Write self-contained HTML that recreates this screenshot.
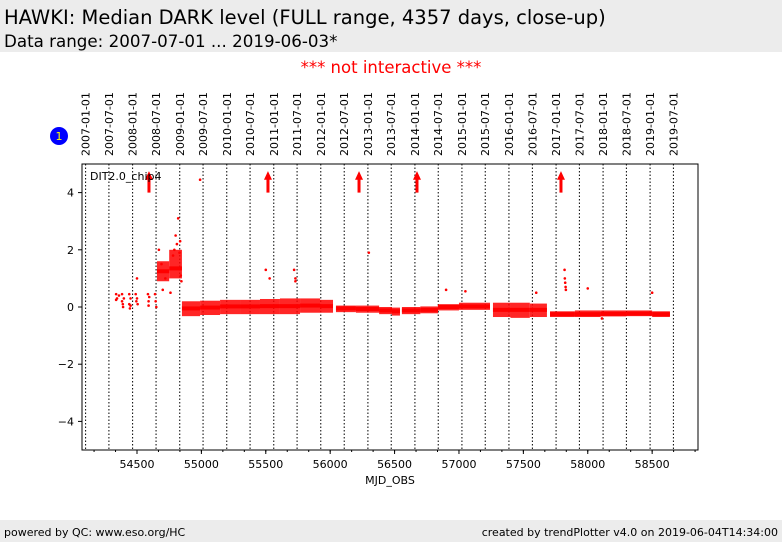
<!DOCTYPE html>
<html><head><meta charset="utf-8"><style>
body{margin:0;width:782px;height:542px;background:#fff;font-family:"DejaVu Sans","Liberation Sans",sans-serif;overflow:hidden;position:relative}
.hdr{position:absolute;left:0;top:0;width:782px;height:52px;background:#ececec}
.t1{position:absolute;left:4px;top:6px;font-size:19.5px;color:#000}
.t2{position:absolute;left:4px;top:31px;font-size:16.7px;color:#000}
.ni{position:absolute;left:0;width:782px;top:58px;text-align:center;color:red;font-size:16.5px}
.ftr{position:absolute;left:0;top:520px;width:782px;height:22px;background:#ececec;font-size:11px}
</style></head><body>
<div class="hdr">
<div class="t1">HAWKI: Median DARK level (FULL range, 4357 days, close-up)</div>
<div class="t2">Data range: 2007-07-01 ... 2019-06-03*</div></div>
<div class="ni">*** not interactive ***</div>
<svg id="chart" width="782" height="542" style="position:absolute;left:0;top:0"></svg>
<div class="ftr"><span style="position:absolute;left:4px;top:6px">powered by QC: www.eso.org/HC</span><span style="position:absolute;right:4px;top:6px">created by trendPlotter v4.0 on 2019-06-04T14:34:00</span></div>
<script>
const xDomain=[54073,58856];
const yDomain=[-5,5];
const xTicks=[54500,55000,55500,56000,56500,57000,57500,58000,58500];
const yTicks=[4,2,0,-2,-4];
const dateLabels=["2007-01-01","2007-07-01","2008-01-01","2008-07-01","2009-01-01","2009-07-01","2010-01-01","2010-07-01","2011-01-01","2011-07-01","2012-01-01","2012-07-01","2013-01-01","2013-07-01","2014-01-01","2014-07-01","2015-01-01","2015-07-01","2016-01-01","2016-07-01","2017-01-01","2017-07-01","2018-01-01","2018-07-01","2019-01-01","2019-07-01"];
const arrowMjd=[54593,55517,56224,56674,57792];
// band bins: start mjd, median, low, high (bin ends at next start)
const binMjd=[54655,54750,54849,54990,55145,55300,55455,55610,55766,55921,56022,56045,56200,56380,56480,56542,56557,56700,56837,57000,57241,57264,57400,57550,57683,57707,57900,58100,58300,58500,58638];
const binMed=[1.25,1.35,-0.05,-0.02,0.02,0.02,0.03,0.03,0.05,0.03,null,-0.05,-0.07,-0.12,-0.15,null,-0.12,-0.1,0.0,0.02,null,-0.1,-0.1,-0.1,null,-0.25,-0.25,-0.24,-0.23,-0.25,null];
const binLo=[0.9,1.0,-0.32,-0.28,-0.25,-0.25,-0.25,-0.25,-0.2,-0.2,null,-0.18,-0.2,-0.25,-0.3,null,-0.25,-0.22,-0.12,-0.1,null,-0.35,-0.38,-0.35,null,-0.35,-0.35,-0.33,-0.32,-0.35,null];
const binHi=[1.6,2.0,0.2,0.22,0.25,0.25,0.28,0.3,0.3,0.25,null,0.05,0.05,0.0,-0.02,null,0.0,0.02,0.1,0.15,null,0.15,0.15,0.12,null,-0.15,-0.12,-0.12,-0.12,-0.15,null];
// individual points
const ptMjd=[54338,54338,54345,54360,54384,54384,54390,54392,54398,54440,54440,54445,54450,54450,54490,54495,54500,54500,54505,54585,54590,54590,54595,54640,54645,54650,54670,54690,54700,54720,54760,54780,54790,54800,54810,54820,54830,54835,54840,54845,54990,55500,55530,55720,55730,55730,56300,56900,57050,57600,57820,57822,57825,57828,57830,58000,58110,58500];
const ptVal=[0.45,0.25,0.3,0.4,0.45,0.2,0.1,0.0,0.3,0.45,0.1,-0.05,0.3,0.05,0.45,0.2,1.0,0.3,0.1,0.45,0.2,0.05,0.35,0.45,0.2,0.0,2.0,1.5,0.6,1.0,0.5,1.8,2.0,2.5,2.2,3.1,1.9,2.3,1.1,0.9,4.45,1.3,1.0,1.3,1.0,0.9,1.9,0.6,0.55,0.5,1.3,1.0,0.85,0.7,0.6,0.65,-0.4,0.5];
const NS='http://www.w3.org/2000/svg';
const svg=document.getElementById('chart');
const L=82,R=698,T=164,B=450;
const X=v=>L+(v-xDomain[0])/(xDomain[1]-xDomain[0])*(R-L);
const Y=v=>B-(v-yDomain[0])/(yDomain[1]-yDomain[0])*(B-T);
function mk(tag,attrs,parent){const e=document.createElementNS(NS,tag);for(const k in attrs)e.setAttribute(k,attrs[k]);(parent||svg).appendChild(e);return e;}
const mjdOf=s=>Date.UTC(+s.slice(0,4),+s.slice(5,7)-1,+s.slice(8,10))/86400000+40587;
dateLabels.forEach(d=>{const x=X(mjdOf(d));
 const ln=mk('line',{x1:x,x2:x,y1:T,y2:B,stroke:'#000','stroke-width':1,'stroke-dasharray':'1.5,2'});
 
 
 const t=mk('text',{x:0,y:0,transform:`translate(${x+4},156) rotate(-90)`,'font-size':'11','font-family':'DejaVu Sans, Liberation Sans, sans-serif',fill:'#000'});
 t.textContent=d;
 
 });
binMjd.forEach((m,i)=>{if(binMed[i]===null||i===binMjd.length-1)return;
 const x1=X(m),x2=X(binMjd[i+1]);
 const r=mk('rect',{x:x1,y:Y(binHi[i]),width:Math.max(1,x2-x1),height:Y(binLo[i])-Y(binHi[i]),fill:'#f00',opacity:0.85});
 
 
 const c=mk('rect',{x:x1,y:Y(binMed[i])-2,width:Math.max(1,x2-x1),height:4,fill:'#f00'});
 
 });
ptMjd.forEach((m,i)=>{const p=mk('circle',{cx:X(m),cy:Y(ptVal[i]),r:1.3,fill:'#f00'});
 
 });
arrowMjd.forEach(m=>{const x=X(m),g=mk('g',{});
 
 
 mk('rect',{x:x-1.5,y:Y(4.5),width:3,height:Y(4)-Y(4.5),fill:'#f00'},g);
 mk('polygon',{points:`${x-4},${Y(4.45)} ${x+4},${Y(4.45)} ${x},${Y(4.75)}`,fill:'#f00'},g);});
const fr=mk('rect',{x:L,y:T,width:R-L,height:B-T,fill:'none',stroke:'#000','stroke-width':1});


xTicks.forEach(v=>{const x=X(v);mk('line',{x1:x,x2:x,y1:B,y2:B+4,stroke:'#000'});
 const t=mk('text',{x:x,y:B+18,'text-anchor':'middle','font-size':'11',fill:'#000'});t.textContent=v;
 
 });
for(let v=54500-2*500/3;v<xDomain[1];v+=500/3){if(v<xDomain[0])continue;mk('line',{x1:X(v),x2:X(v),y1:B,y2:B+2,stroke:'#000'});}
yTicks.forEach(v=>{const y=Y(v);mk('line',{x1:L-4,x2:L,y1:y,y2:y,stroke:'#000'});
 const t=mk('text',{x:L-8,y:y+4,'text-anchor':'end','font-size':'11',fill:'#000'});t.textContent=v<0?'\u2212'+(-v):v;
 
 });
const xt=mk('text',{x:(L+R)/2,y:484,'text-anchor':'middle','font-size':'11',fill:'#000'});xt.textContent='MJD_OBS';


const lg=mk('text',{x:90,y:180,'font-size':'11',fill:'#000'});lg.textContent='DIT2.0_chip4';


const bc=mk('circle',{cx:59,cy:136,r:9,fill:'#00f'});


const bt=mk('text',{x:59,y:140,'text-anchor':'middle','font-size':'11',fill:'#ff0'});bt.textContent='1';


</script></body></html>
